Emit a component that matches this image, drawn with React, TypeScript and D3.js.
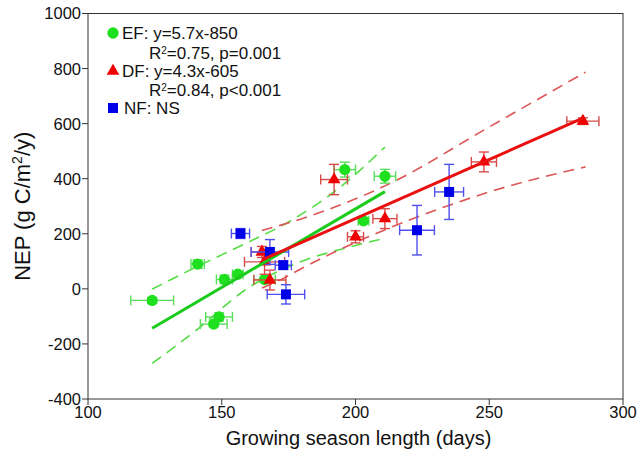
import React from "react";
import * as d3 from "d3";

// ---- data ----
const efX = [124, 141, 151, 156, 149, 147, 166, 196, 211, 203];
const efY = [-42, 90, 34, 53, -102, -128, 34, 433, 409, 247];
const efXErr = [8, 2.5, 3, 2, 5, 5, 4, 4, 4, 2];
const efYErr = [10, 15, 15, 10, 15, 10, 10, 27, 25, 8];

const dfX = [165, 166, 168, 192, 211, 200, 248, 285];
const dfY = [134, 98, 32, 397, 255, 189, 461, 609];
const dfXErr = [4, 7.5, 6, 5, 4.5, 3, 4.7, 6];
const dfYErr = [20, 45, 36, 55, 36, 22, 36, 12];

const nfX = [157, 168, 173, 174, 223, 235];
const nfY = [201, 134, 86, -20, 213, 352];
const nfXErr = [3.4, 7, 3, 7, 6.5, 5.4];
const nfYErr = [18, 45, 15, 35, 90, 100];

// regression lines (endpoints)
const efFitX = [124, 211];
const efFitY = [-143, 353];
const dfFitX = [165, 285];
const dfFitY = [105, 620];

// confidence bands
const efUpX = [124, 141, 160, 175, 195, 211];
const efUpY = [-1, 82, 170, 243, 375, 515];
const efLoX = [124, 141, 158.6, 181, 195, 211];
const efLoY = [-271, -146, -5, 104, 145, 184];
const dfUpX = [165, 180, 213, 250, 286];
const dfUpY = [212, 255, 383, 588, 787];
const dfLoX = [165, 173, 180, 205, 234, 250, 286];
const dfLoY = [3, 38, 75, 190, 300, 352, 443];

const xTicks = [100, 150, 200, 250, 300];
const yTicks = [-400, -200, 0, 200, 400, 600, 800, 1000];

const FONT = "'Liberation Sans', Arial, Helvetica, sans-serif";

const W = 638, H = 459;
const L = 88, R = 623, T = 13.5, B = 399;

export default function App() {
  const x = d3.scaleLinear().domain([100, 300]).range([L, R]);
  const y = d3.scaleLinear().domain([-400, 1000]).range([B, T]);

  const line = d3
    .line<[number, number]>()
    .x((d) => x(d[0]))
    .y((d) => y(d[1]));
  const curve = d3
    .line<[number, number]>()
    .x((d) => x(d[0]))
    .y((d) => y(d[1]))
    .curve(d3.curveMonotoneX);

  const zip = (a: number[], b: number[]) => a.map((v, i) => [v, b[i]] as [number, number]);

  const circle = d3.symbol().type(d3.symbolCircle).size(100)()!;
  const tri = d3.symbol().type(d3.symbolTriangle).size(70)()!;
  const sq = d3.symbol().type(d3.symbolSquare).size(100)()!;

  const series = [
    { xs: efX, ys: efY, xe: efXErr, ye: efYErr, path: circle, fill: "#1ee01e", err: "#5add5a" },
    { xs: dfX, ys: dfY, xe: dfXErr, ye: dfYErr, path: tri, fill: "#f00000", err: "#d84a4a" },
    { xs: nfX, ys: nfY, xe: nfXErr, ye: nfYErr, path: sq, fill: "#0000e8", err: "#5050ee" },
  ];

  const cap = 5;

  return (
    <svg
      width={W}
      height={H}
      style={{ position: "absolute", left: 0, top: 0, background: "#fff" }}
      fontFamily={FONT}
    >
      <rect x={0} y={0} width={W} height={H} fill="#fff" />
      {/* frame */}
      <rect x={L} y={T} width={R - L} height={B - T} fill="none" stroke="#333" strokeWidth={1} />
      {/* y ticks */}
      {yTicks.map((t) => (
        <g key={"y" + t}>
          <line x1={L - 6} x2={L} y1={y(t)} y2={y(t)} stroke="#333" />
          <text x={L - 7} y={y(t)} dy="0.36em" textAnchor="end" fontSize={16.5} fill="#111">
            {t}
          </text>
        </g>
      ))}
      {/* x ticks */}
      {xTicks.map((t) => (
        <g key={"x" + t}>
          <line x1={x(t)} x2={x(t)} y1={B} y2={B + 6} stroke="#333" />
          <text x={x(t)} y={B + 18.5} textAnchor="middle" fontSize={16.5} fill="#111">
            {t}
          </text>
        </g>
      ))}
      <text x={(L + R) / 2 + 3} y={444.5} textAnchor="middle" fontSize={20} fill="#111">
        Growing season length (days)
      </text>
      <text
        transform={`translate(30,${(T + B) / 2}) rotate(-90)`}
        textAnchor="middle"
        fontSize={22}
        fill="#111"
      >
        NEP (g C/m
        <tspan dy={-8} fontSize={14}>2</tspan>
        <tspan dy={8}>/y)</tspan>
      </text>

      {/* confidence bands */}
      <g fill="none" strokeWidth={1.6} strokeDasharray="11,7">
        <path d={curve(zip(efUpX, efUpY))!} stroke="#55dd44" />
        <path d={curve(zip(efLoX, efLoY))!} stroke="#55dd44" />
        <path d={curve(zip(dfUpX, dfUpY))!} stroke="#dd5555" />
        <path d={curve(zip(dfLoX, dfLoY))!} stroke="#dd5555" />
      </g>

      {/* error bars + markers */}
      {series.map((s, si) => (
        <g key={"s" + si}>
          {s.xs.map((xv, i) => {
            const cx = x(xv), cy = y(s.ys[i]);
            const x0 = x(xv - s.xe[i]), x1 = x(xv + s.xe[i]);
            const y0 = y(s.ys[i] - s.ye[i]), y1 = y(s.ys[i] + s.ye[i]);
            return (
              <g key={i} stroke={s.err} strokeWidth={1.4}>
                <line x1={x0} x2={x1} y1={cy} y2={cy} />
                <line x1={x0} x2={x0} y1={cy - cap} y2={cy + cap} />
                <line x1={x1} x2={x1} y1={cy - cap} y2={cy + cap} />
                <line x1={cx} x2={cx} y1={y0} y2={y1} />
                <line x1={cx - cap} x2={cx + cap} y1={y0} y2={y0} />
                <line x1={cx - cap} x2={cx + cap} y1={y1} y2={y1} />
              </g>
            );
          })}
          {s.xs.map((xv, i) => (
            <path
              key={"m" + i}
              d={s.path}
              transform={`translate(${x(xv)},${y(s.ys[i])})`}
              fill={s.fill}
            />
          ))}
        </g>
      ))}

      {/* regression lines */}
      <path d={line(zip(efFitX, efFitY))!} stroke="#1ccc1c" strokeWidth={3} fill="none" />
      <path d={line(zip(dfFitX, dfFitY))!} stroke="#ea1010" strokeWidth={3} fill="none" />

      {/* legend */}
      <g fontSize={17} fill="#111">
        <path d={circle} transform="translate(113,33)" fill="#1ee01e" />
        <text x={122} y={33} dy="0.36em">EF: y=5.7x-850</text>
        <text x={149} y={52.5} dy="0.36em">
          R<tspan dy={-5} fontSize={10}>2</tspan>
          <tspan dy={5}>=0.75, p=0.001</tspan>
        </text>
        <path d={tri} transform="translate(113,71)" fill="#f00000" />
        <text x={122} y={70.5} dy="0.36em">DF: y=4.3x-605</text>
        <text x={149} y={90} dy="0.36em">
          R<tspan dy={-5} fontSize={10}>2</tspan>
          <tspan dy={5}>=0.84, p&lt;0.001</tspan>
        </text>
        <path d={sq} transform="translate(113,108)" fill="#0000e8" />
        <text x={124} y={108} dy="0.36em">NF: NS</text>
      </g>
    </svg>
  );
}
